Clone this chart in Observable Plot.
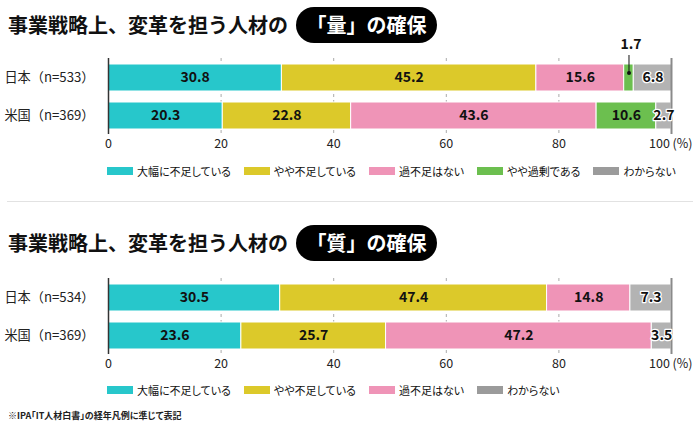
<!DOCTYPE html>
<html>
<head>
<meta charset="utf-8">
<script src="https://cdn.jsdelivr.net/npm/d3@7"></script>
<script src="https://cdn.jsdelivr.net/npm/@observablehq/plot@0.6"></script>
<style>
  html, body { margin: 0; padding: 0; background: #fff; }
  body { font-family: "Noto Sans CJK JP", "Noto Sans", sans-serif; color: #111; }
  #wrap { position: relative; width: 700px; height: 425px; overflow: hidden; }
  .title { position: absolute; left: 8px; height: 36px; line-height: 36px; font-size: 20px; font-weight: 700; white-space: nowrap; letter-spacing: 0px; }
  .pill { display: inline-block; background: #000; color: #fff; border-radius: 18px; padding: 0 10.5px; margin-left: 8px; height: 36px; line-height: 36px; }
  .chart { position: absolute; left: 0; }
  .legend { position: absolute; left: 107px; display: flex; gap: 13px; font-size: 11px; line-height: 14px; white-space: nowrap; font-feature-settings: "palt"; }
  .legend .item { display: flex; align-items: center; gap: 4px; }
  .legend .sw { width: 26px; height: 8px; display: inline-block; }
  .sep { position: absolute; left: 7px; width: 686px; top: 201px; height: 1px; background: #e2e2e2; }
  .caption { position: absolute; left: 8px; top: 410px; font-size: 9px; line-height: 12px; font-weight: 700; color: #222; white-space: nowrap; font-feature-settings: "palt"; }
</style>
</head>
<body>
<div id="wrap">
  <div class="title" id="t1" style="top:7px"></div>
  <div class="chart" id="c1" style="top:50px"></div>
  <div class="legend" id="l1" style="top:164px"></div>
  <div class="sep"></div>
  <div class="title" id="t2" style="top:225px"></div>
  <div class="chart" id="c2" style="top:270px"></div>
  <div class="legend" id="l2" style="top:383px"></div>
  <div class="caption" id="cap"></div>
</div>
<script>
// ---- data ----
const titleMain = "事業戦略上、変革を担う人材の";
const title1Pill = "「量」の確保";
const title2Pill = "「質」の確保";
const caption = "※IPA「IT人材白書」の経年凡例に準じて表記";

const categories = ["大幅に不足している", "やや不足している", "過不足はない", "やや過剰である", "わからない"];

const qtyCountries = ["日本（n=533）", "米国（n=369）"];
const qtyCategories = ["大幅に不足している", "やや不足している", "過不足はない", "やや過剰である", "わからない"];
const qtyJapan = [30.8, 45.2, 15.6, 1.7, 6.8];
const qtyUS = [20.3, 22.8, 43.6, 10.6, 2.7];

const qualCountries = ["日本（n=534）", "米国（n=369）"];
const qualCategories = ["大幅に不足している", "やや不足している", "過不足はない", "わからない"];
const qualJapan = [30.5, 47.4, 14.8, 7.3];
const qualUS = [23.6, 25.7, 47.2, 3.5];

const xTicks = [0, 20, 40, 60, 80, 100];
const unitLabel = "(%)";
// values shown as a call-out above the bar instead of inside it
const calloutItems = [{country: "日本（n=533）", cat: "やや過剰である"}];

// ---- styles ----
const palette = {
  "大幅に不足している": "#27c7cb",
  "やや不足している": "#dcc92a",
  "過不足はない": "#ef94b7",
  "やや過剰である": "#6cbf4f",
  "わからない": "#b3b3b3"
};
const legendPalette = Object.assign({}, palette, {"わからない": "#9b9b9b"});

function buildRows(countries, cats, series) {
  const rows = [];
  countries.forEach((c, i) => {
    cats.forEach((cat, j) => {
      const callout = calloutItems.some(o => o.country === c && o.cat === cat);
      rows.push({country: c, cat, value: series[i][j], callout});
    });
  });
  return rows;
}

function calloutRows(rows) {
  const out = [];
  const acc = {};
  rows.forEach(r => {
    const start = acc[r.country] || 0;
    if (r.callout) out.push({country: r.country, mid: start + r.value / 2, value: r.value});
    acc[r.country] = start + r.value;
  });
  return out;
}

function chart(countries, cats, series) {
  const rows = buildRows(countries, cats, series);
  const co = calloutRows(rows);
  const maxTick = xTicks[xTicks.length - 1];
  return Plot.plot({
    width: 700,
    height: 105,
    marginLeft: 108,
    marginRight: 29,
    marginTop: 8,
    marginBottom: 21,
    style: {fontFamily: '"Noto Sans CJK JP", "Noto Sans", sans-serif', background: "transparent", overflow: "visible"},
    x: {domain: [0, 100], ticks: xTicks, tickSize: 0, tickPadding: 5, label: null},
    y: {domain: countries, paddingInner: 0.3, paddingOuter: 0.15, tickSize: 0, tickPadding: 14, label: null},
    color: {domain: categories, range: categories.map(c => palette[c])},
    marks: [
      Plot.ruleX(xTicks.filter(t => t > 0 && t < maxTick), {stroke: "#aaa", strokeDasharray: "3,3", strokeWidth: 1}),
      Plot.barX(rows, Plot.stackX({x: "value", y: "country", fill: "cat", stroke: "white", strokeWidth: 1})),
      Plot.ruleX([0], {stroke: "#333", strokeWidth: 1.5}),
      Plot.ruleX([maxTick], {stroke: "#8a8a8a", strokeWidth: 2}),
      Plot.text(rows, Plot.stackX({
        x: "value", y: "country", z: "cat",
        text: d => d.callout ? "" : d.value.toFixed(1),
        fill: "#111", stroke: "white", strokeWidth: 2.5,
        strokeOpacity: d => d.cat === "わからない" ? 1 : 0,
        fontSize: 14, fontWeight: 700
      })),
      Plot.tickX(co, {x: "mid", y: "country", stroke: "#111", strokeWidth: 1, insetTop: -9, insetBottom: 18}),
      Plot.dot(co, {x: "mid", y: "country", r: 2, fill: "#111", dy: -5}),
      Plot.text(co, {x: "mid", y: "country", text: d => d.value.toFixed(1), dy: -33, dx: 2, fill: "#111", fontSize: 14, fontWeight: 700}),
      Plot.axisX({ticks: xTicks.filter(t => t < maxTick), tickSize: 0, tickPadding: 5, fontSize: 12.5, fill: "#222", label: null}),
      Plot.axisX({ticks: [maxTick], tickSize: 0, tickPadding: 5, fontSize: 12.5, fill: "#222", dx: -12, label: null}),
      Plot.text([maxTick], {x: d => d, frameAnchor: "bottom", text: () => unitLabel, textAnchor: "start",
        lineAnchor: "top", dy: 5, dx: 1, fontSize: 12.5, fill: "#222"}),
      Plot.axisY({tickSize: 0, tickPadding: 14, fontSize: 13.2, fill: "#222", label: null})
    ]
  });
}

function legend(el, cats) {
  cats.forEach(c => {
    const item = document.createElement("div");
    item.className = "item";
    const sw = document.createElement("span");
    sw.className = "sw";
    sw.style.background = legendPalette[c];
    const tx = document.createElement("span");
    tx.textContent = c;
    item.appendChild(sw);
    item.appendChild(tx);
    el.appendChild(item);
  });
}

function title(el, pill) {
  el.appendChild(document.createTextNode(titleMain));
  const p = document.createElement("span");
  p.className = "pill";
  p.textContent = pill;
  el.appendChild(p);
}

title(document.getElementById("t1"), title1Pill);
title(document.getElementById("t2"), title2Pill);
document.getElementById("c1").appendChild(chart(qtyCountries, qtyCategories, [qtyJapan, qtyUS]));
document.getElementById("c2").appendChild(chart(qualCountries, qualCategories, [qualJapan, qualUS]));
legend(document.getElementById("l1"), qtyCategories);
legend(document.getElementById("l2"), qualCategories);
document.getElementById("cap").textContent = caption;
</script>
</body>
</html>
